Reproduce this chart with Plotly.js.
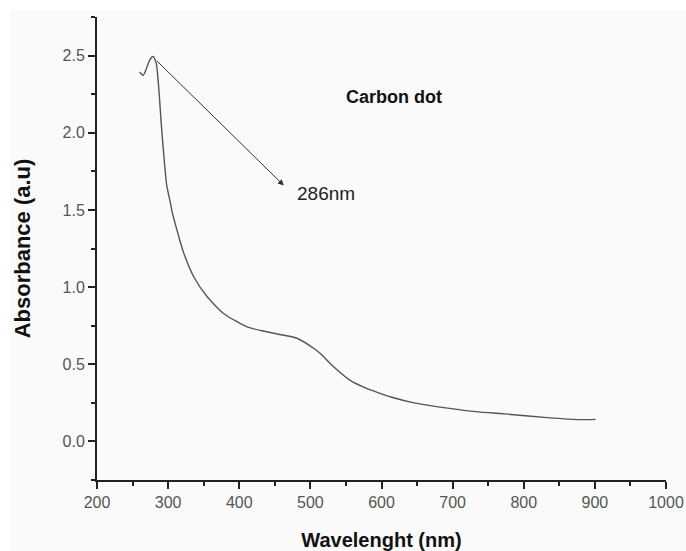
<!DOCTYPE html>
<html>
<head>
<meta charset="utf-8">
<script src="https://cdn.plot.ly/plotly-3.0.1.min.js"></script>
<style>
  html, body { margin: 0; padding: 0; background: #ffffff; }
  #chart { position: absolute; left: 10px; top: 10px; width: 676px; height: 541px; }
</style>
</head>
<body>
<div id="chart"></div>
<script>
// Data
const wavelength = [260, 265, 269, 273, 277, 279, 281, 283.7, 287, 290.3, 294, 298, 303, 306, 310, 316, 322, 336, 355, 378, 411, 435, 463, 482, 505, 514, 533, 556, 580, 600, 613, 646, 693, 739, 767, 786, 833, 880, 901];
const absorbance = [2.394, 2.372, 2.41, 2.46, 2.49, 2.495, 2.48, 2.44, 2.28, 2.06, 1.85, 1.66, 1.55, 1.48, 1.41, 1.31, 1.22, 1.067, 0.937, 0.829, 0.742, 0.714, 0.688, 0.667, 0.602, 0.569, 0.482, 0.396, 0.342, 0.308, 0.288, 0.25, 0.216, 0.19, 0.181, 0.173, 0.154, 0.141, 0.143];

const xTickVals = [200, 300, 400, 500, 600, 700, 800, 900, 1000];
const xTickText = ["200", "300", "400", "500", "600", "700", "800", "900", "1000"];
const yTickVals = [0.0, 0.5, 1.0, 1.5, 2.0, 2.5];
const yTickText = ["0.0", "0.5", "1.0", "1.5", "2.0", "2.5"];

const peakLabel = "286nm";
const sampleLabel = "Carbon dot";
const xTitle = "Wavelenght (nm)";
const yTitle = "Absorbance (a.u)";

const FONT = "Arial, 'Liberation Sans', sans-serif";

const trace = {
  x: wavelength,
  y: absorbance,
  type: "scatter",
  mode: "lines",
  line: { color: "#555555", width: 1.4, shape: "spline", smoothing: 0.6 },
  hoverinfo: "skip"
};

const layout = {
  width: 676,
  height: 541,
  margin: { l: 87, r: 20, t: 7, b: 71 },
  paper_bgcolor: "#fafafa",
  plot_bgcolor: "#fafafa",
  showlegend: false,
  font: { family: FONT, color: "#444444", size: 16 },
  xaxis: {
    range: [200, 1000],
    tickmode: "array",
    tickvals: xTickVals,
    ticktext: xTickText,
    ticks: "outside",
    ticklen: 7,
    tickwidth: 2,
    tickcolor: "#222222",
    showline: true,
    linecolor: "#222222",
    linewidth: 2,
    showgrid: false,
    zeroline: false,
    tickfont: { family: FONT, size: 16, color: "#555555" },
    minor: { dtick: 50, tick0: 200, ticks: "outside", ticklen: 4, tickwidth: 2, tickcolor: "#222222", showgrid: false },
    title: { text: xTitle, font: { family: FONT, size: 20, color: "#111111", weight: "bold" }, standoff: 24 }
  },
  yaxis: {
    range: [-0.25, 2.75],
    tickmode: "array",
    tickvals: yTickVals,
    ticktext: yTickText,
    ticks: "outside",
    ticklen: 7,
    tickwidth: 2,
    tickcolor: "#222222",
    showline: true,
    linecolor: "#222222",
    linewidth: 2,
    showgrid: false,
    zeroline: false,
    tickfont: { family: FONT, size: 16, color: "#555555" },
    minor: { dtick: 0.25, tick0: 0, ticks: "outside", ticklen: 4, tickwidth: 2, tickcolor: "#222222", showgrid: false },
    title: { text: yTitle, font: { family: FONT, size: 22, color: "#111111", weight: "bold" }, standoff: 30 }
  },
  annotations: [
    {
      x: 462.7, y: 1.658, xref: "x", yref: "y",
      ax: 282.3, ay: 2.474, axref: "x", ayref: "y",
      text: "",
      showarrow: true,
      arrowhead: 2,
      arrowsize: 1.2,
      arrowwidth: 1,
      arrowcolor: "#333333",
      standoff: 0,
      startstandoff: 0
    },
    {
      x: 479, y: 1.604, xref: "x", yref: "y",
      text: peakLabel,
      showarrow: false,
      xanchor: "left",
      yanchor: "middle",
      font: { family: FONT, size: 19, color: "#222222" }
    },
    {
      x: 617, y: 2.23, xref: "x", yref: "y",
      text: "<b>" + sampleLabel + "</b>",
      showarrow: false,
      xanchor: "center",
      yanchor: "middle",
      font: { family: FONT, size: 18, color: "#111111" }
    }
  ]
};

Plotly.newPlot("chart", [trace], layout, { displayModeBar: false, staticPlot: true });
</script>
</body>
</html>
